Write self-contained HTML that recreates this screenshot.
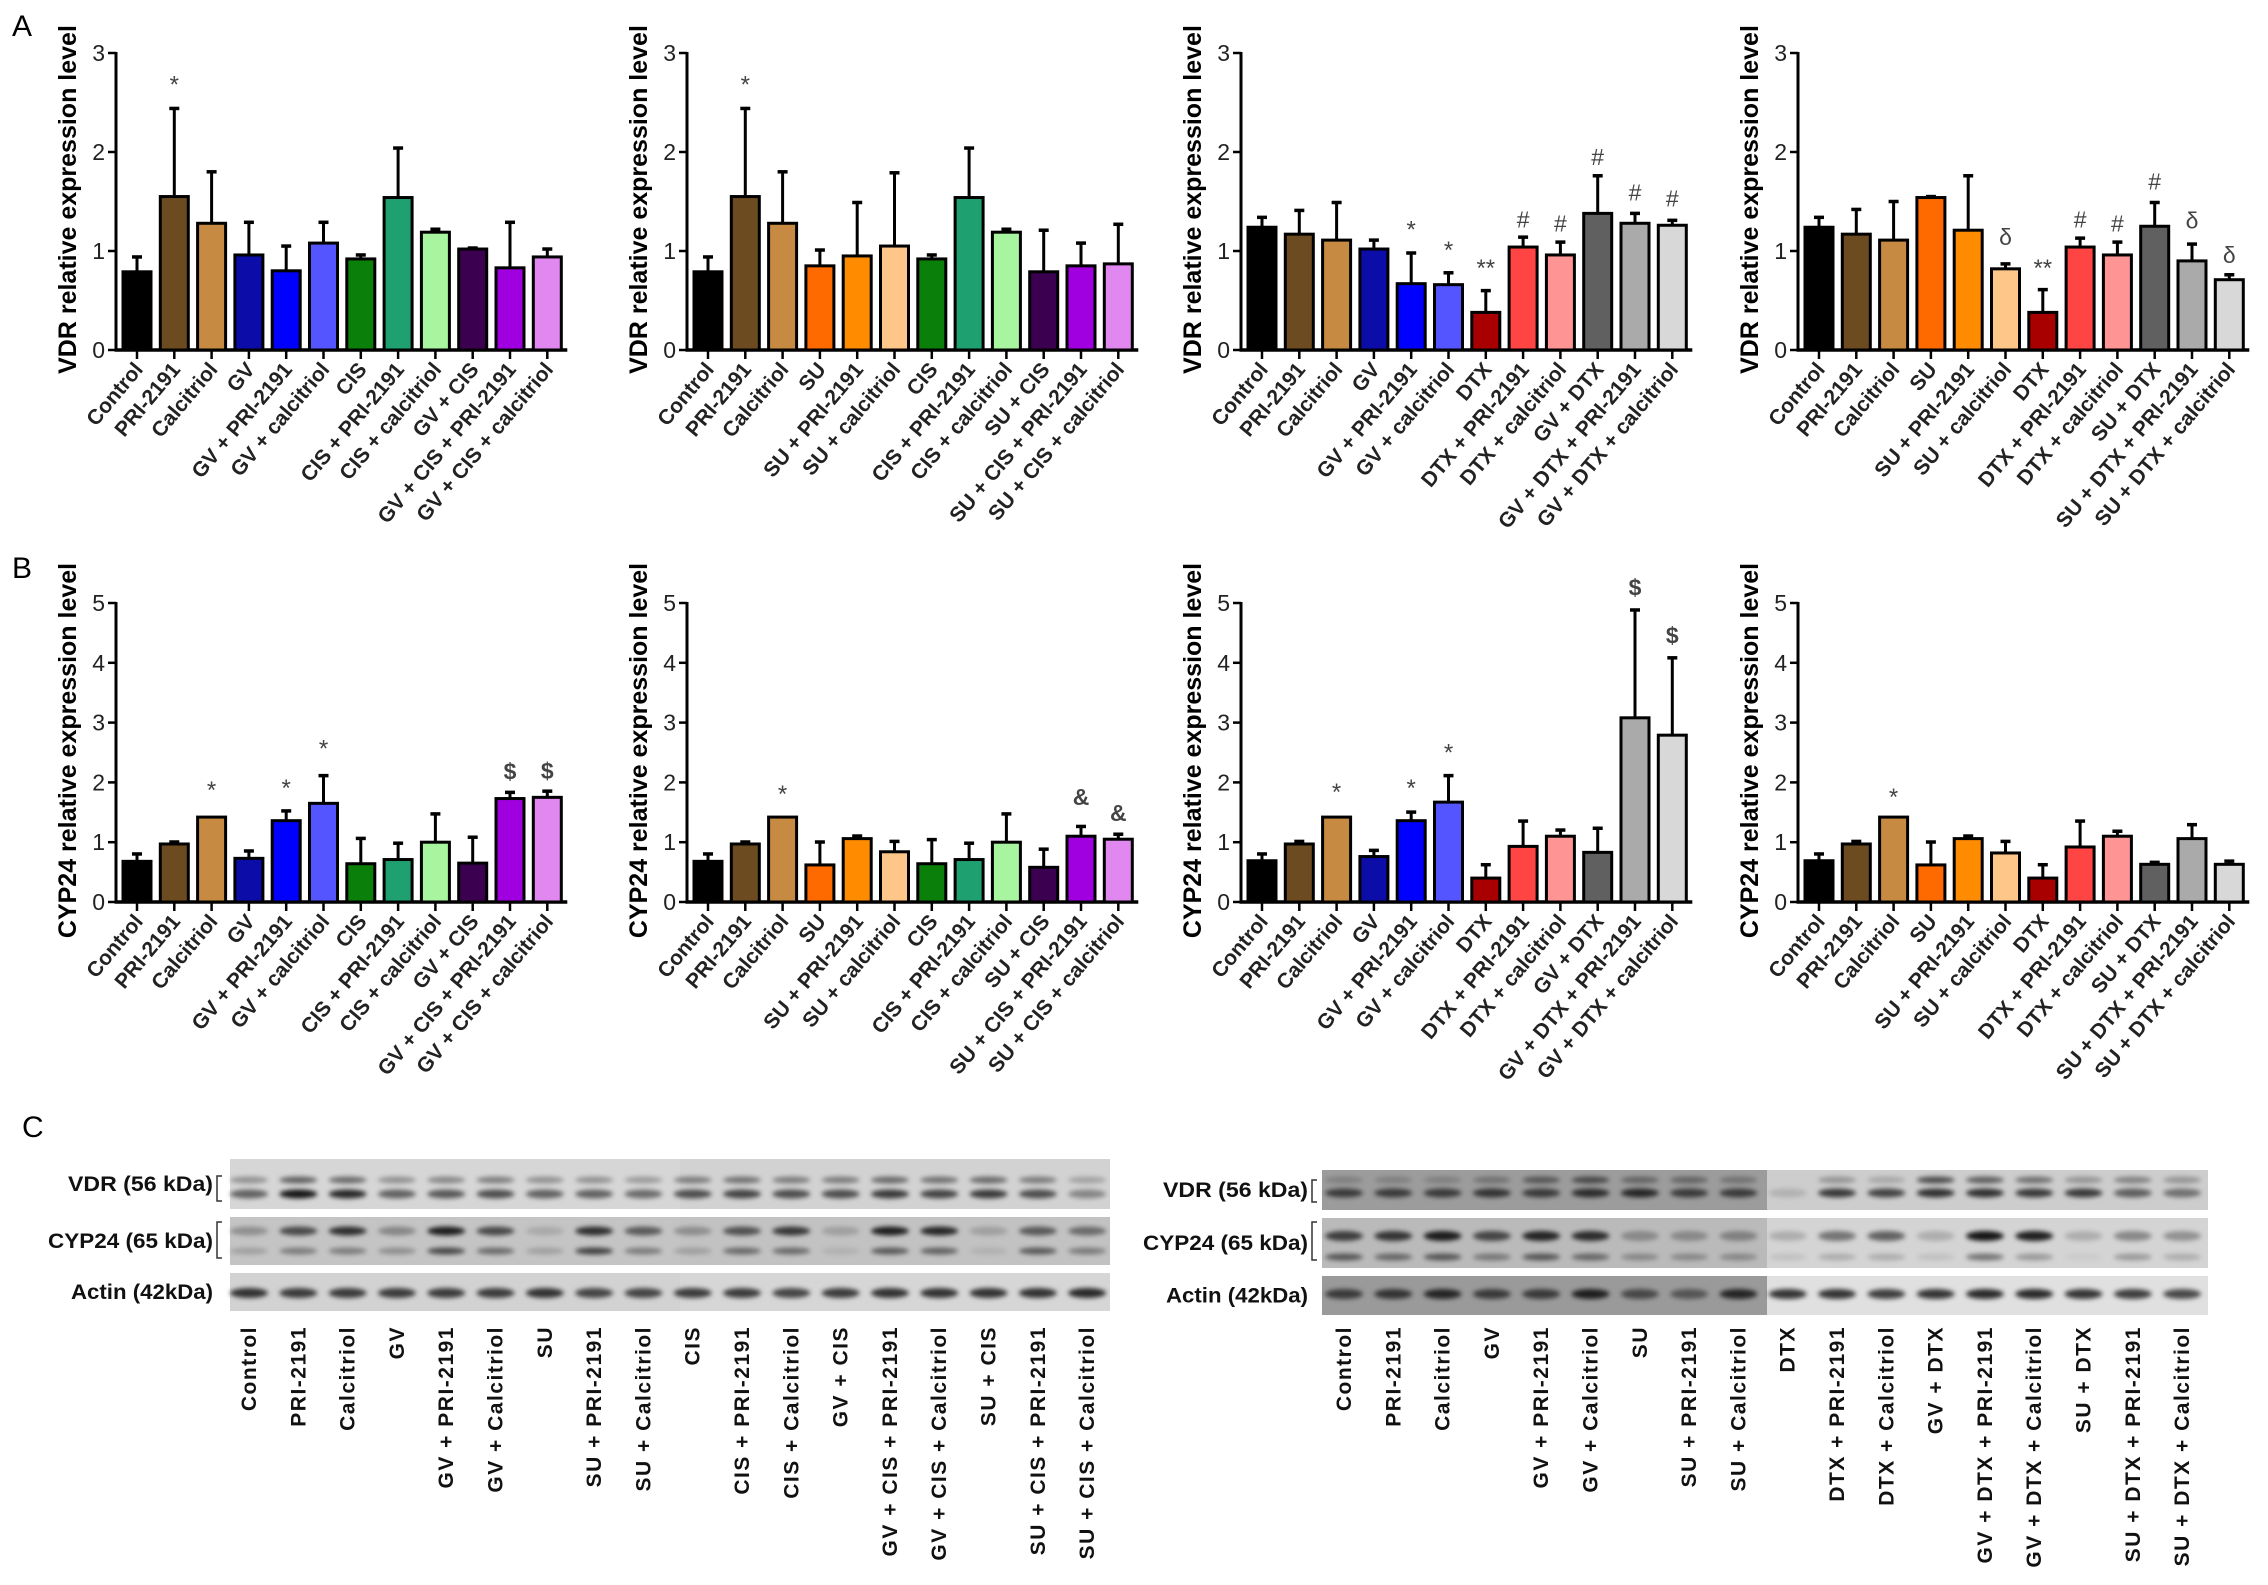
<!DOCTYPE html>
<html><head><meta charset="utf-8"><style>
html,body{margin:0;padding:0;background:#fff}
svg{display:block}
text{font-family:"Liberation Sans",Arial,sans-serif}
</style></head><body>
<svg id="fig" xmlns="http://www.w3.org/2000/svg" width="2268" height="1585" viewBox="0 0 2268 1585">
<defs><filter id="blur" x="-50%" y="-200%" width="200%" height="500%"><feGaussianBlur stdDeviation="2.4"/></filter></defs>
<rect width="2268" height="1585" fill="#fff"/>
<text x="12" y="36" font-size="30">A</text>
<text x="12" y="578" font-size="30">B</text>
<text x="22" y="1137" font-size="30">C</text>
</svg>
<script>
// ---------- DATA ----------
const catA1 = ["Control","PRI-2191","Calcitriol","GV","GV + PRI-2191","GV + calcitriol","CIS","CIS + PRI-2191","CIS + calcitriol","GV + CIS","GV + CIS + PRI-2191","GV + CIS + calcitriol"];
const catA2 = ["Control","PRI-2191","Calcitriol","SU","SU + PRI-2191","SU + calcitriol","CIS","CIS + PRI-2191","CIS + calcitriol","SU + CIS","SU + CIS + PRI-2191","SU + CIS + calcitriol"];
const catA3 = ["Control","PRI-2191","Calcitriol","GV","GV + PRI-2191","GV + calcitriol","DTX","DTX + PRI-2191","DTX + calcitriol","GV + DTX","GV + DTX + PRI-2191","GV + DTX + calcitriol"];
const catA4 = ["Control","PRI-2191","Calcitriol","SU","SU + PRI-2191","SU + calcitriol","DTX","DTX + PRI-2191","DTX + calcitriol","SU + DTX","SU + DTX + PRI-2191","SU + DTX + calcitriol"];

const vdr1 = [0.79,1.55,1.28,0.96,0.80,1.08,0.92,1.54,1.19,1.02,0.83,0.94];
const vdr1Err = [0.95,2.45,1.81,1.30,1.06,1.30,0.97,2.05,1.23,1.04,1.30,1.03];
const vdr2 = [0.79,1.55,1.28,0.85,0.95,1.05,0.92,1.54,1.19,0.79,0.85,0.87];
const vdr2Err = [0.95,2.45,1.81,1.02,1.50,1.80,0.97,2.05,1.23,1.22,1.09,1.28];
const vdr3 = [1.24,1.17,1.11,1.02,0.67,0.66,0.38,1.04,0.96,1.38,1.28,1.26];
const vdr3Err = [1.35,1.42,1.50,1.12,0.99,0.79,0.61,1.15,1.10,1.77,1.39,1.32];
const vdr4 = [1.24,1.17,1.11,1.54,1.21,0.82,0.38,1.04,0.96,1.25,0.90,0.71];
const vdr4Err = [1.35,1.43,1.51,1.56,1.77,0.88,0.62,1.14,1.10,1.50,1.08,0.77];

const cyp1 = [0.68,0.97,1.42,0.73,1.36,1.65,0.64,0.71,1.00,0.65,1.73,1.75];
const cyp1Err = [0.82,1.02,1.42,0.87,1.54,2.13,1.08,1.00,1.49,1.10,1.85,1.87];
const cyp2 = [0.68,0.97,1.42,0.62,1.06,0.84,0.64,0.71,1.00,0.58,1.10,1.05];
const cyp2Err = [0.82,1.02,1.42,1.02,1.12,1.03,1.06,1.00,1.49,0.90,1.28,1.15];
const cyp3 = [0.69,0.97,1.42,0.76,1.36,1.67,0.40,0.93,1.10,0.83,3.08,2.79];
const cyp3Err = [0.82,1.03,1.42,0.88,1.52,2.13,0.64,1.37,1.22,1.25,4.90,4.10];
const cyp4 = [0.69,0.97,1.42,0.62,1.06,0.82,0.40,0.92,1.10,0.63,1.06,0.63];
const cyp4Err = [0.82,1.03,1.42,1.02,1.12,1.03,0.64,1.37,1.20,0.68,1.31,0.70];

// significance marks: [bar index, symbol, y value]
const markA1 = [[1,"*",2.72]];
const markA2 = [[1,"*",2.72]];
const markA3 = [[4,"*",1.26],[5,"*",1.05],[6,"**",0.87],[7,"#",1.32],[8,"#",1.28],[9,"#",1.95],[10,"#",1.59],[11,"#",1.53]];
const markA4 = [[5,"δ",1.14],[6,"**",0.87],[7,"#",1.32],[8,"#",1.28],[9,"#",1.70],[10,"δ",1.31],[11,"δ",0.96]];
const markB1 = [[2,"*",1.94],[4,"*",1.97],[5,"*",2.63],[10,"$",2.18],[11,"$",2.19]];
const markB2 = [[2,"*",1.87],[10,"&",1.76],[11,"&",1.49]];
const markB3 = [[2,"*",1.91],[4,"*",1.97],[5,"*",2.57],[10,"$",5.26],[11,"$",4.46]];
const markB4 = [[2,"*",1.82]];

const vdrTicks = ["0","1","2","3"];
const cypTicks = ["0","1","2","3","4","5"];

// Western blot lane labels and band intensities
const laneLeft = ["Control","PRI-2191","Calcitriol","GV","GV + PRI-2191","GV + Calcitriol","SU","SU + PRI-2191","SU + Calcitriol","CIS","CIS + PRI-2191","CIS + Calcitriol","GV + CIS","GV + CIS + PRI-2191","GV + CIS + Calcitriol","SU + CIS","SU + CIS + PRI-2191","SU + CIS + Calcitriol"];
const laneRight = ["Control","PRI-2191","Calcitriol","GV","GV + PRI-2191","GV + Calcitriol","SU","SU + PRI-2191","SU + Calcitriol","DTX","DTX + PRI-2191","DTX + Calcitriol","GV + DTX","GV + DTX + PRI-2191","GV + DTX + Calcitriol","SU + DTX","SU + DTX + PRI-2191","SU + DTX + Calcitriol"];
const lVdrUp = [0.35,0.6,0.55,0.35,0.4,0.45,0.35,0.35,0.3,0.45,0.5,0.45,0.45,0.55,0.5,0.55,0.45,0.25];
const lVdrLo = [0.6,1,0.9,0.6,0.65,0.7,0.6,0.6,0.55,0.7,0.75,0.7,0.7,0.8,0.75,0.8,0.7,0.4];
const lCypUp = [0.3,0.7,0.85,0.35,0.95,0.7,0.15,0.85,0.6,0.3,0.65,0.8,0.2,0.95,0.9,0.2,0.6,0.5];
const lCypLo = [0.2,0.4,0.4,0.3,0.7,0.5,0.2,0.75,0.4,0.2,0.5,0.5,0.1,0.6,0.55,0.1,0.6,0.4];
const lActin = [0.85,0.8,0.8,0.8,0.8,0.8,0.85,0.75,0.75,0.8,0.8,0.75,0.8,0.85,0.85,0.85,0.85,0.9];
const rVdrUp = [0.2,0.2,0.2,0.3,0.5,0.6,0.4,0.4,0.3,0,0.3,0.2,0.7,0.6,0.5,0.3,0.4,0.3];
const rVdrLo = [0.7,0.7,0.7,0.75,0.7,0.8,0.85,0.7,0.7,0.15,0.8,0.75,0.85,0.85,0.8,0.8,0.6,0.5];
const rCypUp = [0.75,0.8,0.95,0.7,0.9,0.85,0.3,0.3,0.35,0.2,0.5,0.6,0.2,1,0.95,0.2,0.4,0.35];
const rCypLo = [0.6,0.5,0.6,0.4,0.6,0.5,0.3,0.3,0.3,0.1,0.2,0.2,0.1,0.5,0.3,0.05,0.3,0.2];
const rActin = [0.7,0.75,0.85,0.7,0.7,0.9,0.6,0.5,0.85,0.85,0.85,0.8,0.85,0.9,0.9,0.85,0.8,0.75];

// ---------- STYLE ----------
const colorMap = {
 "Control":"#000000","PRI-2191":"#6b4b1f","Calcitriol":"#c68a43",
 "GV":"#0c0ca8","GV + PRI-2191":"#0000ff","GV + calcitriol":"#5555ff",
 "CIS":"#0a800a","CIS + PRI-2191":"#1fa070","CIS + calcitriol":"#a8f5a0",
 "GV + CIS":"#3c0050","GV + CIS + PRI-2191":"#a000e0","GV + CIS + calcitriol":"#e088f0",
 "SU":"#ff6a00","SU + PRI-2191":"#ff8c00","SU + calcitriol":"#ffc68a",
 "SU + CIS":"#3c0050","SU + CIS + PRI-2191":"#a000e0","SU + CIS + calcitriol":"#e088f0",
 "DTX":"#a80000","DTX + PRI-2191":"#ff4444","DTX + calcitriol":"#ff9494",
 "GV + DTX":"#606060","GV + DTX + PRI-2191":"#aaaaaa","GV + DTX + calcitriol":"#d8d8d8",
 "SU + DTX":"#606060","SU + DTX + PRI-2191":"#aaaaaa","SU + DTX + calcitriol":"#d8d8d8"
};
const NS = "http://www.w3.org/2000/svg";
const svg = document.getElementById("fig");
function mk(tag, attrs, parent){
  const e = document.createElementNS(NS, tag);
  for (const k in attrs) e.setAttribute(k, attrs[k]);
  (parent||svg).appendChild(e);
  return e;
}

function barChart(id, axisX, y0, yTop, ymax, ticks, cats, vals, errs, marks, title){
  const g = mk("g", {});
  
  
  const first = axisX + 21, step = 37.3, bw = 28;
  const xS = i => first + i*step;
  const yS = v => y0 - (v/ymax)*(y0-yTop);
  const lastX = xS(cats.length-1);
  const ya = mk("line", {x1:axisX, y1:y0+1.5, x2:axisX, y2:yTop-1, stroke:"#000","stroke-width":3}, g);
  
  
  const xa = mk("line", {x1:axisX-1.5, y1:y0, x2:lastX+20, y2:y0, stroke:"#000","stroke-width":3.5}, g);
  
  
  ticks.forEach((t,k)=>{
    const v = +t, y = yS(v);
    mk("line",{x1:axisX-8,y1:y,x2:axisX,y2:y,stroke:"#000","stroke-width":2.5},g);
    const tl = mk("text",{x:axisX-11,y:y+8,"font-size":23,"text-anchor":"end",fill:"#222"},g);
    tl.textContent = t;
    
    
  });
  const tt = mk("text",{x:0,y:0,"font-size":25,"font-weight":"bold","text-anchor":"middle",
     transform:`translate(${axisX-40},${(y0+yTop)/2 - 2}) rotate(-90)`},g);
  tt.textContent = title;
  
  
  cats.forEach((c,i)=>{
    const x = xS(i), top = yS(vals[i]), et = yS(errs[i]);
    if (errs[i] > vals[i]) {
      const el = mk("line",{x1:x,y1:top,x2:x,y2:et,stroke:"#000","stroke-width":3},g);
      
      
      mk("line",{x1:x-5,y1:et+1,x2:x+5,y2:et+1,stroke:"#000","stroke-width":3.5},g);
    }
    const r = mk("rect",{x:x-bw/2,y:top,width:bw,height:y0-top,fill:colorMap[c],stroke:"#000","stroke-width":3},g);
    
    
    mk("line",{x1:x,y1:y0,x2:x,y2:y0+9,stroke:"#000","stroke-width":2.5},g);
    const lb = mk("text",{x:0,y:0,"font-size":21,"font-weight":"bold","text-anchor":"end",fill:"#222",
      transform:`translate(${x+7},${y0+20}) rotate(-50)`},g);
    lb.textContent = c;
    
    
  });
  marks.forEach(m=>{
    const isStar = m[1].indexOf("*")>=0;
    const t = mk("text",{x:xS(m[0]),y:yS(m[2])+(isStar?12:8),"font-size":isStar?24:23,"text-anchor":"middle",
      fill:"#444","font-weight":(m[1]==="$"||m[1]==="&")?"bold":"normal"},g);
    t.textContent = m[1];
    
    
  });
}

const aY0 = 350, aTop = 53, bY0 = 902, bTop = 603;
barChart("vdr-chart-gv-cis", 116, aY0, aTop, 3, vdrTicks, catA1, vdr1, vdr1Err, markA1, "VDR relative expression level");
barChart("vdr-chart-su-cis", 687, aY0, aTop, 3, vdrTicks, catA2, vdr2, vdr2Err, markA2, "VDR relative expression level");
barChart("vdr-chart-gv-dtx", 1241, aY0, aTop, 3, vdrTicks, catA3, vdr3, vdr3Err, markA3, "VDR relative expression level");
barChart("vdr-chart-su-dtx", 1798, aY0, aTop, 3, vdrTicks, catA4, vdr4, vdr4Err, markA4, "VDR relative expression level");
barChart("cyp24-chart-gv-cis", 116, bY0, bTop, 5, cypTicks, catA1, cyp1, cyp1Err, markB1, "CYP24 relative expression level");
barChart("cyp24-chart-su-cis", 687, bY0, bTop, 5, cypTicks, catA2, cyp2, cyp2Err, markB2, "CYP24 relative expression level");
barChart("cyp24-chart-gv-dtx", 1241, bY0, bTop, 5, cypTicks, catA3, cyp3, cyp3Err, markB3, "CYP24 relative expression level");
barChart("cyp24-chart-su-dtx", 1798, bY0, bTop, 5, cypTicks, catA4, cyp4, cyp4Err, markB4, "CYP24 relative expression level");

// ---------- WESTERN BLOTS ----------
function blot(id, left, right, firstLane, labelRight, lanes, strips, sep){
  const g = mk("g",{});
  
  
  const step = 49.3;
  const lx = i => firstLane + i*step;
  strips.forEach(s=>{
    mk("rect",{x:left,y:s.y1,width:sep-left,height:s.y2-s.y1,fill:s.bg[0]},g);
    mk("rect",{x:sep,y:s.y1,width:right-sep,height:s.y2-s.y1,fill:s.bg[1]},g);
    s.bands.forEach(b=>{
      b.vals.forEach((v,i)=>{
        if (v<=0) return;
        const e = mk("ellipse",{cx:lx(i),cy:b.y,rx:19,ry:b.h,fill:"#000","fill-opacity":Math.min(1,v*0.9),filter:"url(#blur)"},g);
        
        
      });
    });
    const t = mk("text",{x:labelRight,y:(s.y1+s.y2)/2+7,"font-size":21,"font-weight":"bold","text-anchor":"end",fill:"#111",
      textLength:s.tl, lengthAdjust:"spacingAndGlyphs"},g);
    t.textContent = s.label;
    
    
    if (s.bracket) {
      mk("path",{d:`M${labelRight+9},${s.by1} h-5 v${s.by2-s.by1} h5`,fill:"none",stroke:"#333","stroke-width":1.5},g);
    }
  });
  lanes.forEach((n,i)=>{
    const t = mk("text",{x:0,y:0,"font-size":21,"font-weight":"bold","text-anchor":"end",fill:"#111","letter-spacing":"1.5",
      transform:`translate(${lx(i)+7},1326) rotate(-90)`},g);
    t.textContent = n;
    
    
  });
}
blot("western-blot-cis", 230, 1110, 249, 213, laneLeft, [
  {label:"VDR (56 kDa)", tl:145, y1:1159, y2:1209, bg:["#d6d6d6","#d2d2d2"], bracket:true, by1:1176, by2:1201,
   bands:[{y:1180,h:3.5,vals:lVdrUp},{y:1194,h:4.5,vals:lVdrLo}]},
  {label:"CYP24 (65 kDa)", tl:165, y1:1217, y2:1265, bg:["#c4c4c4","#c2c2c2"], bracket:true, by1:1222, by2:1258,
   bands:[{y:1231,h:4.5,vals:lCypUp},{y:1251,h:3.5,vals:lCypLo}]},
  {label:"Actin (42kDa)", tl:142, y1:1273, y2:1311, bg:["#d2d2d2","#d6d6d6"], bracket:false,
   bands:[{y:1293,h:5,vals:lActin}]}
], 680);
blot("western-blot-dtx", 1322, 2208, 1344, 1308, laneRight, [
  {label:"VDR (56 kDa)", tl:145, y1:1170, y2:1210, bg:["#9c9c9c","#cdcdcd"], bracket:true, by1:1180, by2:1202,
   bands:[{y:1180,h:3.5,vals:rVdrUp},{y:1193,h:4.5,vals:rVdrLo}]},
  {label:"CYP24 (65 kDa)", tl:165, y1:1218, y2:1268, bg:["#bababa","#d4d4d4"], bracket:true, by1:1222, by2:1260,
   bands:[{y:1236,h:5,vals:rCypUp},{y:1257,h:3.5,vals:rCypLo}]},
  {label:"Actin (42kDa)", tl:142, y1:1276, y2:1315, bg:["#9a9a9a","#e0e0e0"], bracket:false,
   bands:[{y:1294,h:5,vals:rActin}]}
], 1767);
</script>
</body></html>
